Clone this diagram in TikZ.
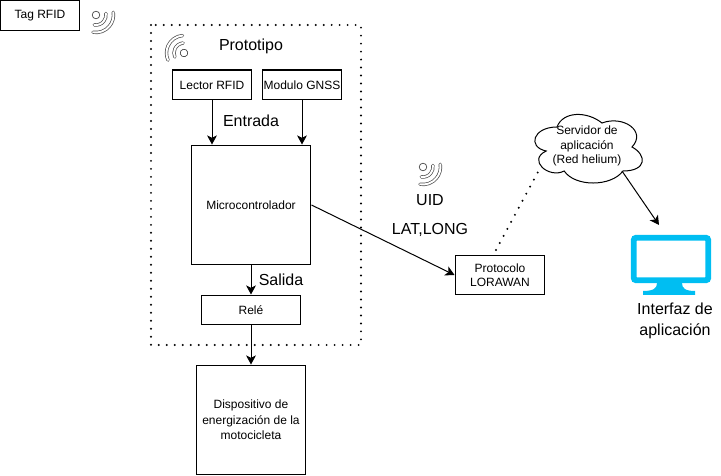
\documentclass[tikz,border=0pt]{standalone}
\usepackage{fontspec}
\setmainfont{Liberation Sans}
\usetikzlibrary{arrows.meta}
\definecolor{mon}{HTML}{00BEF2}
\tikzset{
  bloc/.style={draw, line width=0.57pt, inner sep=0pt, align=center, font=\fontsize{6.83}{8.2}\selectfont},
  tra/.style={-{Stealth[length=5.2pt, width=5.6pt, inset=1.4pt]}, line width=0.57pt},
  tlab/.style={inner sep=0pt, align=center, font=\fontsize{9.1}{11.9}\selectfont},
  puntos/.style={line width=1.25pt, line cap=round, dash pattern=on 0pt off 4.55pt},
  onda/.style={draw=black!70, line width=0.4pt, double=white, double distance=1.1pt, line cap=round},
  rfid/.pic={
    \draw[draw=black!70, line width=0.4pt] (0,0) circle (3.8);
    \draw[onda] (100:10) arc (100:-9:10);
    \draw[onda] (100:17.5) arc (100:-9:17.5);
  }
}
\begin{document}
\begin{tikzpicture}[x=0.02cm, y=-0.02cm]
	\useasboundingbox (0,0) rectangle (721,476);
	\node[bloc, minimum width=1.6cm, minimum height=0.6cm] (tag) at (40,15.5) {Tag RFID};
	\node[bloc, minimum width=1.6cm, minimum height=0.6cm] (lector) at (212,85) {Lector RFID};
	\node[bloc, minimum width=1.6cm, minimum height=0.6cm] (gnss) at (302,85) {Modulo GNSS};
	\node[bloc, minimum width=2.4cm, minimum height=2.4cm] (micro) at (251,205) {Microcontrolador};
	\node[bloc, minimum width=2cm, minimum height=0.6cm] (rele) at (251,310) {Relé};
	\node[bloc, minimum width=2.2cm, minimum height=2.2cm, font=\fontsize{6.83}{8.8}\selectfont] (moto) at (251,420) {Dispositivo de\\energización de la\\motocicleta};
	\node[bloc, minimum width=1.8cm, minimum height=0.8cm] (lora) at (500,275) {Protocolo\\LORAWAN};
	\node[tlab, font=\fontsize{6.83}{8.2}\selectfont] (serv) at (587,146) {Servidor de\\aplicación\\(Red helium)};
	% nube
	\begin{scope}[shift={(527,107)}, x=0.024cm, y=-0.016cm]
		\draw[line width=0.57pt] (25,25) .. controls (5,25) and (0,50) .. (16,55)
			.. controls (0,66) and (18,90) .. (31,80)
			.. controls (40,100) and (70,100) .. (80,80)
			.. controls (100,80) and (100,60) .. (87.5,50)
			.. controls (100,30) and (80,10) .. (62.5,20)
			.. controls (50,5) and (30,5) .. (25,25) -- cycle;
	\end{scope}
	% monitor
	\fill[mon] (657,283) -- (682,283) .. controls (682,288) and (685,291) .. (695,291) -- (695,295) -- (643,295) -- (643,291) .. controls (654,291) and (657,288) .. (657,283) -- cycle;
	\node[draw=mon, line width=3.4pt, rounded corners=1.5pt, minimum width=1.49cm, minimum height=0.85cm, inner sep=0pt] (monitor) at (671,259) {};
	\node[tlab] (inter) at (675,321) {Interfaz de\\aplicación};
	\node[tlab] (proto) at (251,46) {Prototipo};
	\node[tlab] (entrada) at (251,121) {Entrada};
	\node[tlab] (salida) at (281,280) {Salida};
	\node[tlab] (uid) at (430,200) {UID};
	\node[tlab] (latlong) at (430,230) {LAT,LONG};
	\coordinate (dot0) at (496,250);
	\coordinate (dot1) at (538,172);
	\coordinate (sal0) at (622,171);
	\coordinate (sal1) at (659,225);
	\draw[puntos] (151,25) rectangle (361,345);
	\draw[tra] (lector) -- (lector |- micro.north);
	\draw[tra] (gnss) -- (gnss |- micro.north);
	\draw[tra] (micro) -- (rele);
	\draw[tra] (rele) -- (moto);
	\draw[tra] (micro.east) -- (lora.west);
	\draw[tra] (sal0) -- (sal1);
	\draw[puntos] (dot0) -- (dot1);
	\pic at (96,15) {rfid};
	\pic[rotate=195] at (184,53) {rfid};
	\pic at (423,167) {rfid};
\end{tikzpicture}
\end{document}
